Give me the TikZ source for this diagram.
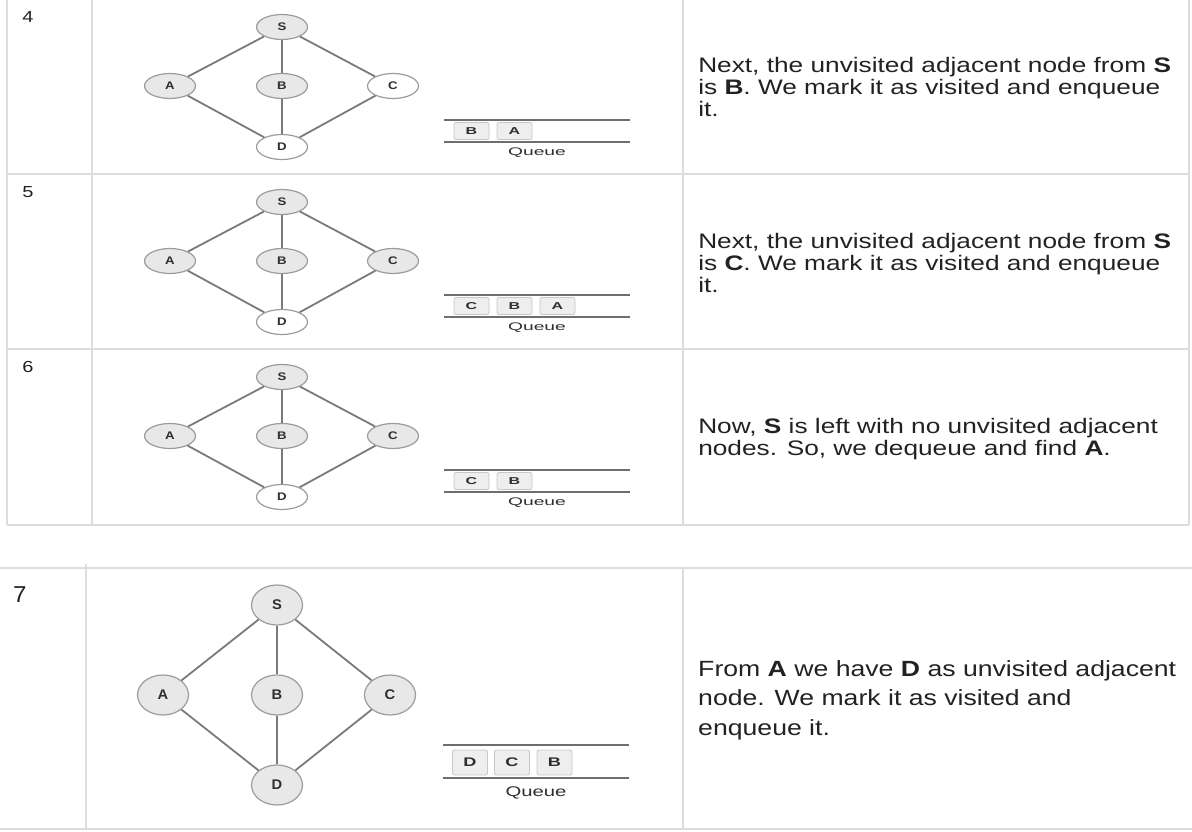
\documentclass[tikz,border=0pt]{standalone}
\usepackage{fontspec}
\setmainfont{Liberation Sans}
\usetikzlibrary{shapes.geometric}

\definecolor{gridgrey}{HTML}{DDDDDD}
\definecolor{edgegrey}{HTML}{7A7A7A}
\definecolor{nodeborder}{HTML}{9C9C9C}
\definecolor{visitedfill}{HTML}{E8E8E8}
\definecolor{labelgrey}{HTML}{2E2E2E}
\definecolor{qborder}{HTML}{C8C8C8}
\definecolor{qfill}{HTML}{EEEEEE}
\definecolor{qline}{HTML}{6E6E6E}
\definecolor{textcol}{HTML}{222222}

% horizontally widened text
\newcommand\widetxt[2]{\scalebox{#1}[1]{#2}}

% BFS graph of one step: prefix, y of S, styles of S A B C D
\newcommand\bfsgraph[7]{%
  \node[#3] (#1S) at (282,#2) {\widetxt{1.2}{S}};
  \node[#4] (#1A) at (170,{#2+59}) {\widetxt{1.2}{A}};
  \node[#5] (#1B) at (282,{#2+59}) {\widetxt{1.2}{B}};
  \node[#6] (#1C) at (393,{#2+59}) {\widetxt{1.2}{C}};
  \node[#7] (#1D) at (282,{#2+120}) {\widetxt{1.2}{D}};
  \draw[edge] (#1S) -- (#1A);
  \draw[edge] (#1S) -- (#1C);
  \draw[edge,line width=2.4pt] (#1S) -- (#1B);
  \draw[edge,line width=2.4pt] (#1B) -- (#1D);
  \draw[edge] (#1A) -- (#1D);
  \draw[edge] (#1C) -- (#1D);
}

% queue: prefix, top line y, bottom line y, entries
\newcommand\bfsqueue[4]{%
  \coordinate (#1qa) at (444,#2); \coordinate (#1qb) at (630,#2);
  \coordinate (#1qc) at (444,#3); \coordinate (#1qd) at (630,#3);
  \draw[qlinestyle] (#1qa) -- (#1qb);
  \draw[qlinestyle] (#1qc) -- (#1qd);
  \foreach \lbl [count=\k] in {#4}
    \node[qbox] (#1q\k) at ({471.5+43*(\k-1)},{(#2+#3)/2}) {\widetxt{1.6}{\lbl}};
  \node[qlabel] (#1qname) at (537,{#3+11}) {Queue};
}

\begin{document}
\begin{tikzpicture}[x=1pt,y=-1pt,
  grid/.style={draw=gridgrey, line width=1.5pt},
  vnode/.style={ellipse, draw=nodeborder, line width=1.2pt, fill=visitedfill,
    minimum width=51pt, minimum height=25pt, inner sep=0pt,
    font=\bfseries\fontsize{11}{11}\selectfont, text=labelgrey},
  unode/.style={vnode, fill=white},
  bignode/.style={vnode, minimum height=40pt, font=\bfseries\fontsize{14}{14}\selectfont},
  edge/.style={draw=edgegrey, line width=1.8pt},
  qlinestyle/.style={draw=qline, line width=1.4pt},
  qbox/.style={draw=qborder, fill=qfill, rounded corners=2pt, line width=0.8pt,
    minimum width=35pt, minimum height=17pt, inner sep=0pt,
    font=\bfseries\fontsize{10}{10}\selectfont, text=labelgrey},
  bigqbox/.style={qbox, minimum height=25pt, font=\bfseries\fontsize{12.5}{12.5}\selectfont},
  qlabel/.style={inner sep=0pt, xscale=1.75, font=\fontsize{11}{11}\selectfont, text=labelgrey},
  bigqlabel/.style={inner sep=0pt, xscale=1.45, font=\fontsize{14}{14}\selectfont, text=labelgrey},
  txt/.style={anchor=base west, inner sep=0pt, xscale=1.25,
    font=\fontsize{21}{22}\selectfont, text=textcol},
  bigtxt/.style={anchor=base west, inner sep=0pt, xscale=1.21,
    font=\fontsize{22}{24}\selectfont, text=textcol},
  num/.style={anchor=base west, inner sep=0pt, xscale=1.25,
    font=\fontsize{16}{16}\selectfont, text=textcol},
  bignum/.style={anchor=base west, inner sep=0pt, xscale=1.05,
    font=\fontsize{23}{23}\selectfont, text=textcol}]

\useasboundingbox (0,0) rectangle (1192,832);
\fill[white] (0,0) rectangle (1192,832);

% ---- table with steps 4 to 6 ----
\draw[grid] (7,0) -- (7,525);
\draw[grid] (92,0) -- (92,525);
\draw[grid] (683,0) -- (683,525);
\draw[grid] (1189,0) -- (1189,525);
\draw[grid] (7,174) -- (1189,174);
\draw[grid] (7,349) -- (1189,349);
\draw[grid] (7,525) -- (1189,525);

% ---- table with step 7 ----
\draw[grid] (0,568) -- (1192,568);
\draw[grid] (86,564) -- (86,828);
\draw[grid] (683,568) -- (683,828);
\draw[grid, line width=2.5pt] (0,829) -- (1192,829);

% step numbers
\node[num] (n4) at (22,23) {4};
\node[num] (n5) at (22,197) {5};
\node[num] (n6) at (22,372) {6};
\node[bignum] (n7) at (13,602) {7};

% step 4
\bfsgraph{r4}{27}{vnode}{vnode}{vnode}{unode}{unode}
\bfsqueue{r4}{120}{142}{B,A}
\node[txt] (t4a) at (698,73) {Next, the unvisited adjacent node from \textbf{S}};
\node[txt] (t4b) at (698,95) {is \textbf{B}. We mark it as visited and enqueue};
\node[txt] (t4c) at (698,117) {it.};

% step 5
\bfsgraph{r5}{202}{vnode}{vnode}{vnode}{vnode}{unode}
\bfsqueue{r5}{295}{317}{C,B,A}
\node[txt] (t5a) at (698,248) {Next, the unvisited adjacent node from \textbf{S}};
\node[txt] (t5b) at (698,270) {is \textbf{C}. We mark it as visited and enqueue};
\node[txt] (t5c) at (698,292) {it.};

% step 6
\bfsgraph{r6}{377}{vnode}{vnode}{vnode}{vnode}{unode}
\bfsqueue{r6}{470}{492}{C,B}
\node[txt] (t6a) at (698,433) {Now, \textbf{S} is left with no unvisited adjacent};
\node[txt] (t6b) at (698,455) {nodes. So, we dequeue and find \textbf{A}.};

% step 7
\node[bignode] (r7S) at (277,605) {\widetxt{1.05}{S}};
\node[bignode] (r7A) at (163,695) {\widetxt{1.05}{A}};
\node[bignode] (r7B) at (277,695) {\widetxt{1.05}{B}};
\node[bignode] (r7C) at (390,695) {\widetxt{1.05}{C}};
\node[bignode] (r7D) at (277,785) {\widetxt{1.05}{D}};
\draw[edge] (r7S) -- (r7A);
\draw[edge] (r7S) -- (r7B);
\draw[edge] (r7S) -- (r7C);
\draw[edge] (r7A) -- (r7D);
\draw[edge] (r7B) -- (r7D);
\draw[edge] (r7C) -- (r7D);

\coordinate (r7qa) at (443,745); \coordinate (r7qb) at (629,745);
\coordinate (r7qc) at (443,778); \coordinate (r7qd) at (629,778);
\draw[qlinestyle] (r7qa) -- (r7qb);
\draw[qlinestyle] (r7qc) -- (r7qd);
\node[bigqbox] (r7q1) at (470,762.5) {\widetxt{1.45}{D}};
\node[bigqbox] (r7q2) at (512,762.5) {\widetxt{1.45}{C}};
\node[bigqbox] (r7q3) at (554.5,762.5) {\widetxt{1.45}{B}};
\node[bigqlabel] (r7qname) at (536,793) {Queue};

\node[bigtxt] (t7a) at (698,676) {From \textbf{A} we have \textbf{D} as unvisited adjacent};
\node[bigtxt] (t7b) at (698,705) {node. We mark it as visited and};
\node[bigtxt] (t7c) at (698,735) {enqueue it.};

\end{tikzpicture}
\end{document}
